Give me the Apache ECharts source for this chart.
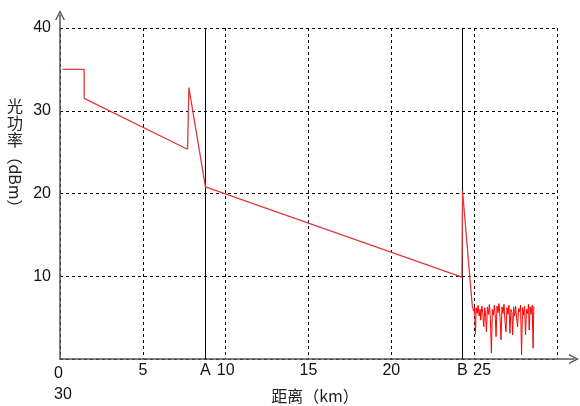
<!DOCTYPE html>
<html><head><meta charset="utf-8">
<script src="https://cdn.jsdelivr.net/npm/echarts@6/dist/echarts.min.js"></script>
<style>html,body{margin:0;padding:0;background:#fff}#c{width:580px;height:406px}</style>
</head><body><div id="c"></div>
<script>
// main OTDR trace (km, dBm)
const traceMain = [
  [0.15,35.0],[1.46,35.0],[1.46,31.5],[7.70,25.35],[7.78,32.8],[7.84,32.6],
  [8.78,20.8],[24.26,9.9],[24.30,20.3],[24.42,20.1],[24.86,7.0],[24.90,6.3]
];
// noise floor after the fibre end
const traceNoise = [
  [24.90,6.3],[24.96,5.8],[25.02,6.3],[25.08,3.0],[25.12,6.2],[25.18,5.5],[25.24,6.5],[25.30,5.2],
  [25.36,6.0],[25.40,4.7],[25.46,6.4],[25.52,5.6],[25.58,3.9],[25.64,6.2],[25.70,5.0],[25.74,3.3],
  [25.80,6.3],[25.86,5.4],[25.92,6.6],[25.98,4.8],[26.04,0.7],[26.10,6.0],[26.16,5.3],[26.22,6.5],
  [26.28,4.9],[26.32,2.7],[26.38,6.4],[26.44,5.6],[26.50,6.7],[26.56,5.1],[26.62,2.3],[26.68,6.3],
  [26.74,5.5],[26.80,6.6],[26.86,4.6],[26.92,3.3],[26.98,6.2],[27.04,5.4],[27.10,6.5],[27.16,3.1],
  [27.22,6.0],[27.28,5.6],[27.32,2.9],[27.38,6.3],[27.44,5.2],[27.50,6.4],[27.56,5.0],[27.62,3.9],
  [27.68,6.1],[27.74,5.7],[27.80,6.5],[27.86,0.5],[27.92,6.2],[27.98,5.3],[28.04,6.4],[28.10,2.9],
  [28.16,6.0],[28.22,5.5],[28.28,6.6],[28.32,3.5],[28.38,6.3],[28.44,5.4],[28.50,6.5],[28.56,1.3],[28.60,6.4]
];
const markerNames = ['A','B'];
const markerPositions = [8.78, 24.28];
const xLabels = {0:'0', 5:'5', 10:'10', 15:'15', 20:'20', 25:'25', 30:''};
const extraZeroLabel = '30';
const yLabels = {0:'', 10:'10', 20:'20', 30:'30', 40:'40'};
const xName = '距离（km）';
const yNameUpright = '光功率';
const yNameRotated = '（dBm）';

const latin = '"Liberation Sans", Arial, sans-serif';
const cjk = '"Noto Sans CJK TC", "Noto Sans CJK SC", sans-serif';
const arrowPath = 'path://M0,10 L5,0 L10,10 L8.5,10 L5,3 L1.5,10 Z';
const gridDash = {color:'#000', width:1, type:[3,3]};

const chart = echarts.init(document.getElementById('c'), null, {renderer:'canvas'});
chart.setOption({
  animation:false,
  backgroundColor:'#fff',
  grid:[
    {left:60, right:23, top:28, bottom:47},
    {left:60, right:6, top:15, bottom:47}
  ],
  xAxis:[
    {type:'value', gridIndex:0, min:0, max:30, interval:5,
     axisLine:{show:false}, axisTick:{show:false},
     splitLine:{show:true, lineStyle:gridDash},
     axisLabel:{margin:4, color:'#111', fontFamily:latin, fontSize:16,
       formatter:function(v){
         if (v===0) return '{z|'+xLabels[0]+'}\n{z|'+extraZeroLabel+'}';
         if (v===25) return '{s|'+xLabels[25]+'}';
         return xLabels[v] !== undefined ? xLabels[v] : '';
       },
       rich:{
         z:{align:'left', padding:[0,0,0,6], fontSize:16, lineHeight:21, fontFamily:latin, color:'#111'},
         s:{padding:[0,0,0,16], fontSize:16, fontFamily:latin, color:'#111'}
       }}},
    {type:'value', gridIndex:1, min:0, max:1,
     axisLine:{show:true, symbol:['none', arrowPath], symbolSize:[12,10], lineStyle:{color:'#555', width:1.5}},
     axisTick:{show:false}, axisLabel:{show:false}, splitLine:{show:false}}
  ],
  yAxis:[
    {type:'value', gridIndex:0, min:0, max:40, interval:10,
     axisLine:{show:false}, axisTick:{show:false},
     splitLine:{show:true, lineStyle:gridDash},
     axisLabel:{margin:9, color:'#111', fontFamily:latin, fontSize:16,
       formatter:function(v){ return yLabels[v] !== undefined ? yLabels[v] : ''; }}},
    {type:'value', gridIndex:1, min:0, max:1,
     axisLine:{show:true, symbol:['none', arrowPath], symbolSize:[12,10], lineStyle:{color:'#555', width:1.5}},
     axisTick:{show:false}, axisLabel:{show:false}, splitLine:{show:false}}
  ],
  series:[
    {type:'line', xAxisIndex:0, yAxisIndex:0, data:traceMain, showSymbol:false, symbol:'none',
     lineStyle:{color:'#e0383c', width:1.3}, z:5,
     markLine:{silent:true, symbol:['none','none'], animation:false,
       lineStyle:{color:'#000', width:1, type:'solid'},
       label:{show:true, position:'start', distance:4, color:'#111', fontFamily:latin, fontSize:16,
         formatter:function(p){ return p.name; }},
       data: markerNames.map(function(n,i){ return {name:n, xAxis:markerPositions[i]}; })
     }},
    {type:'line', xAxisIndex:0, yAxisIndex:0, data:traceNoise, showSymbol:false, symbol:'none',
     lineStyle:{color:'#ff0000', width:1}, z:5}
  ],
  graphic:[
    {type:'text', left:7, top:97, style:{text:yNameUpright.split('').join('\n'), font:'16px '+cjk, fill:'#222', lineHeight:17}},
    {type:'text', x:15, y:182, rotation:-Math.PI/2,
     style:{text:yNameRotated, font:'16px '+cjk, fill:'#222', align:'center', verticalAlign:'middle'}},
    {type:'text', x:315, y:396, style:{text:xName, font:'16px '+cjk, fill:'#222', align:'center', verticalAlign:'middle'}}
  ]
});
</script></body></html>
